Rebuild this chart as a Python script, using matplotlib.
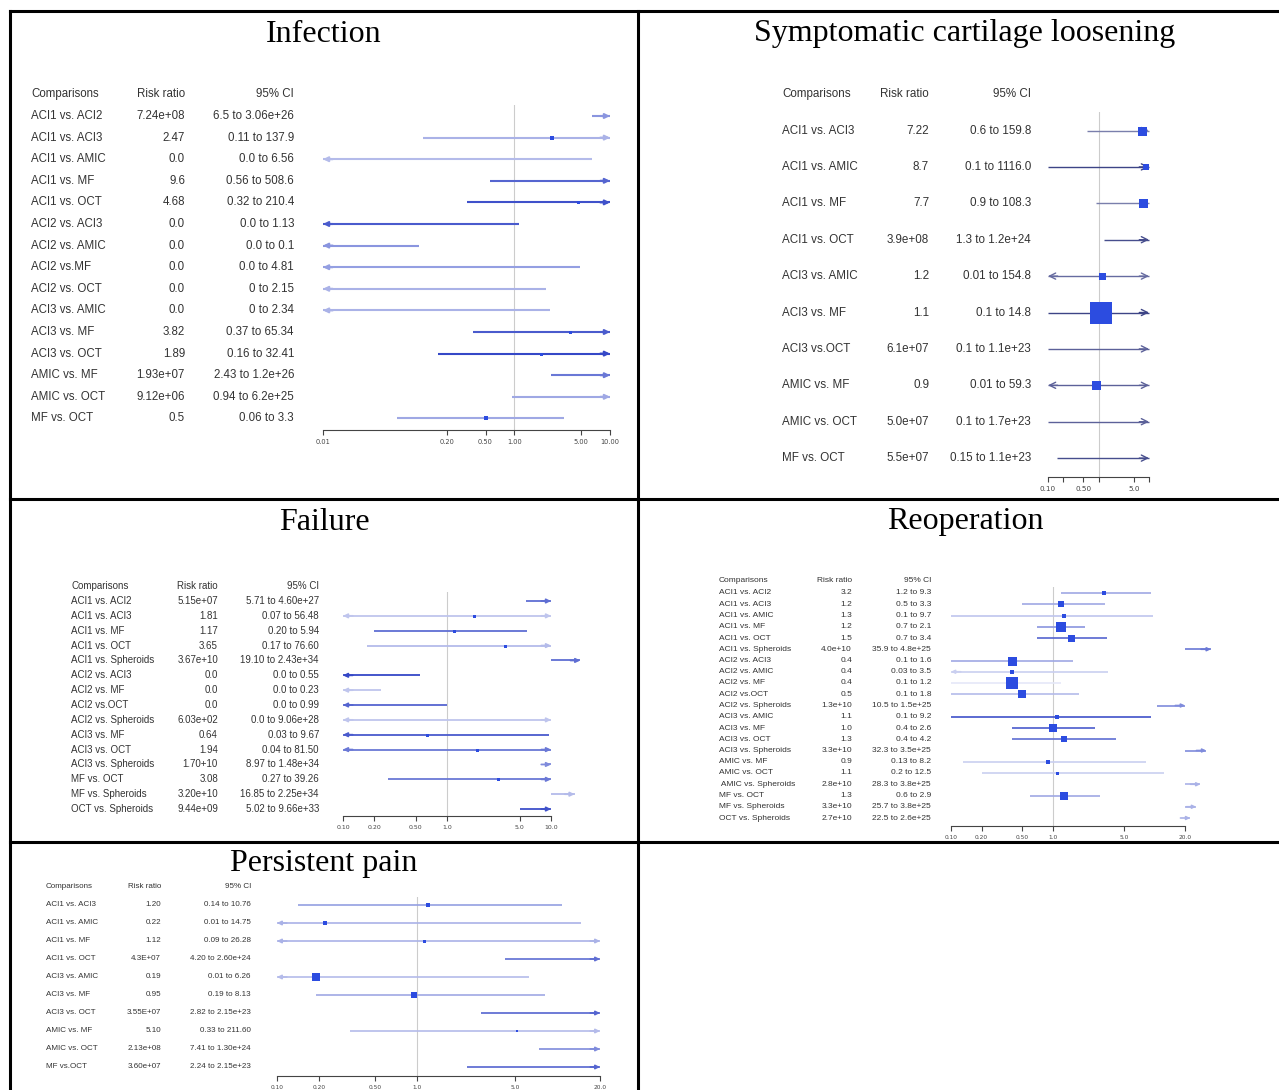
import matplotlib
matplotlib.use("Agg")
import matplotlib.pyplot as plt
from matplotlib.lines import Line2D
from matplotlib.colors import to_rgb
from matplotlib.ticker import NullLocator
from matplotlib.transforms import blended_transform_factory

# ---- data ----
inf_comp = ["ACI1 vs. ACI2", "ACI1 vs. ACI3", "ACI1 vs. AMIC", "ACI1 vs. MF", "ACI1 vs. OCT",
            "ACI2 vs. ACI3", "ACI2 vs. AMIC", "ACI2 vs.MF", "ACI2 vs. OCT", "ACI3 vs. AMIC",
            "ACI3 vs. MF", "ACI3 vs. OCT", "AMIC vs. MF", "AMIC vs. OCT", "MF vs. OCT"]
inf_rr = ["7.24e+08", "2.47", "0.0", "9.6", "4.68", "0.0", "0.0", "0.0", "0.0", "0.0",
          "3.82", "1.89", "1.93e+07", "9.12e+06", "0.5"]
inf_ci = ["6.5 to 3.06e+26", "0.11 to 137.9", "0.0 to 6.56", "0.56 to 508.6", "0.32 to 210.4",
          "0.0 to 1.13", "0.0 to 0.1", "0.0 to 4.81", "0 to 2.15", "0 to 2.34",
          "0.37 to 65.34", "0.16 to 32.41", "2.43 to 1.2e+26", "0.94 to 6.2e+25", "0.06 to 3.3"]
inf_wt = [0.55, 0.4, 0.35, 0.8, 0.9, 0.85, 0.55, 0.5, 0.4, 0.4, 0.85, 0.95, 0.7, 0.45, 0.45]
inf_box = [0, 4, 0, 0, 3, 0, 0, 0, 0, 0, 3, 3, 0, 0, 4]

scl_comp = ["ACI1 vs. ACI3", "ACI1 vs. AMIC", "ACI1 vs. MF", "ACI1 vs. OCT", "ACI3 vs. AMIC",
            "ACI3 vs. MF", "ACI3 vs.OCT", "AMIC vs. MF", "AMIC vs. OCT", "MF vs. OCT"]
scl_rr = ["7.22", "8.7", "7.7", "3.9e+08", "1.2", "1.1", "6.1e+07", "0.9", "5.0e+07", "5.5e+07"]
scl_ci = ["0.6 to 159.8", "0.1 to 1116.0", "0.9 to 108.3", "1.3 to 1.2e+24", "0.01 to 154.8",
          "0.1 to 14.8", "0.1 to 1.1e+23", "0.01 to 59.3", "0.1 to 1.7e+23", "0.15 to 1.1e+23"]
scl_wt = [0.65, 0.95, 0.65, 0.9, 0.75, 0.95, 0.8, 0.8, 0.8, 0.9]
scl_box = [9, 6, 9, 0, 7, 22, 0, 9, 0, 0]

fail_comp = ["ACI1 vs. ACI2", "ACI1 vs. ACI3", "ACI1 vs. MF", "ACI1 vs. OCT", "ACI1 vs. Spheroids",
             "ACI2 vs. ACI3", "ACI2 vs. MF", "ACI2 vs.OCT", "ACI2 vs. Spheroids", "ACI3 vs. MF",
             "ACI3 vs. OCT", "ACI3 vs. Spheroids", "MF vs. OCT", "MF vs. Spheroids", "OCT vs. Spheroids"]
fail_rr = ["5.15e+07", "1.81", "1.17", "3.65", "3.67e+10", "0.0", "0.0", "0.0", "6.03e+02",
           "0.64", "1.94", "1.70+10", "3.08", "3.20e+10", "9.44e+09"]
fail_ci = ["5.71 to 4.60e+27", "0.07 to 56.48", "0.20 to 5.94", "0.17 to 76.60", "19.10 to 2.43e+34",
           "0.0 to 0.55", "0.0 to 0.23", "0.0 to 0.99", "0.0 to 9.06e+28", "0.03 to 9.67",
           "0.04 to 81.50", "8.97 to 1.48e+34", "0.27 to 39.26", "16.85 to 2.25e+34", "5.02 to 9.66e+33"]
fail_wt = [0.75, 0.3, 0.75, 0.35, 0.75, 0.95, 0.3, 0.8, 0.3, 0.85, 0.7, 0.6, 0.7, 0.35, 0.9]
fail_box = [0, 3, 3, 3, 0, 0, 0, 0, 0, 3, 3, 0, 3, 0, 0]

reop_comp = ["ACI1 vs. ACI2", "ACI1 vs. ACI3", "ACI1 vs. AMIC", "ACI1 vs. MF", "ACI1 vs. OCT",
             "ACI1 vs. Spheroids", "ACI2 vs. ACI3", "ACI2 vs. AMIC", "ACI2 vs. MF", "ACI2 vs.OCT",
             "ACI2 vs. Spheroids", "ACI3 vs. AMIC", "ACI3 vs. MF", "ACI3 vs. OCT", "ACI3 vs. Spheroids",
             "AMIC vs. MF", "AMIC vs. OCT", " AMIC vs. Spheroids", "MF vs. OCT", "MF vs. Spheroids",
             "OCT vs. Spheroids"]
reop_rr = ["3.2", "1.2", "1.3", "1.2", "1.5", "4.0e+10", "0.4", "0.4", "0.4", "0.5", "1.3e+10",
           "1.1", "1.0", "1.3", "3.3e+10", "0.9", "1.1", "2.8e+10", "1.3", "3.3e+10", "2.7e+10"]
reop_ci = ["1.2 to 9.3", "0.5 to 3.3", "0.1 to 9.7", "0.7 to 2.1", "0.7 to 3.4", "35.9 to 4.8e+25",
           "0.1 to 1.6", "0.03 to 3.5", "0.1 to 1.2", "0.1 to 1.8", "10.5 to 1.5e+25", "0.1 to 9.2",
           "0.4 to 2.6", "0.4 to 4.2", "32.3 to 3.5e+25", "0.13 to 8.2", "0.2 to 12.5",
           "28.3 to 3.8e+25", "0.6 to 2.9", "25.7 to 3.8e+25", "22.5 to 2.6e+25"]
reop_wt = [0.45, 0.45, 0.3, 0.55, 0.8, 0.7, 0.45, 0.25, 0.12, 0.35, 0.6, 0.9, 0.85, 0.75, 0.6,
           0.25, 0.25, 0.4, 0.45, 0.4, 0.4]
reop_box = [5, 6, 4, 10, 7, 0, 9, 5, 12, 8, 0, 4, 8, 6, 0, 4, 3, 0, 8, 0, 0]

pain_comp = ["ACI1 vs. ACI3", "ACI1 vs. AMIC", "ACI1 vs. MF", "ACI1 vs. OCT", "ACI3 vs. AMIC",
             "ACI3 vs. MF", "ACI3 vs. OCT", "AMIC vs. MF", "AMIC vs. OCT", "MF vs.OCT"]
pain_rr = ["1.20", "0.22", "1.12", "4.3E+07", "0.19", "0.95", "3.55E+07", "5.10", "2.13e+08", "3.60e+07"]
pain_ci = ["0.14 to 10.76", "0.01 to 14.75", "0.09 to 26.28", "4.20 to 2.60e+24", "0.01 to 6.26",
           "0.19 to 8.13", "2.82 to 2.15e+23", "0.33 to 211.60", "7.41 to 1.30e+24", "2.24 to 2.15e+23"]
pain_wt = [0.5, 0.4, 0.4, 0.75, 0.35, 0.45, 0.8, 0.35, 0.6, 0.8]
pain_box = [5, 4, 3, 0, 8, 6, 0, 2, 0, 0]

W, H = 1279, 1090
BLUE = "#2a3ec4"
NAVY = "#333a80"
BOX = "#2c4ce0"

fig = plt.figure(figsize=(W / 100, H / 100), dpi=100)


def fx(x):
    return x / W


def fy(y):
    return 1 - y / H


def num(s):
    s = s.strip().lower()
    if "+" in s and "e" not in s:
        s = s.replace("+", "e+")
    return float(s)


def shade(c, w):
    r, g, b = to_rgb(c)
    return (1 - w * (1 - r), 1 - w * (1 - g), 1 - w * (1 - b))


def head(ax, x, y, sign, col, lw, style, ms):
    ax.annotate("", xy=(x, y), xytext=(-sign * 7, 0), textcoords="offset points",
                arrowprops=dict(arrowstyle=style, color=col, lw=lw, mutation_scale=ms,
                                shrinkA=0, shrinkB=0),
                annotation_clip=False)


def forest(p):
    x0, x1 = p["xpx"]
    xmin, xmax = p["xlim"]
    yt, yb = p["ypx"]
    p0, d = p["rows"]
    ax = fig.add_axes([fx(x0), fy(yb), (x1 - x0) / W, (yb - yt) / H])
    ax.patch.set_alpha(0)
    ax.set_xscale("log")
    ax.set_xlim(xmin, xmax)
    ax.set_ylim((yb - p0) / d, (yt - p0) / d)
    ax.axvline(1, color="#cccccc", lw=0.8, zorder=0)
    for s in ["top", "right", "left"]:
        ax.spines[s].set_visible(False)
    ax.spines["bottom"].set_color("#444444")
    ax.spines["bottom"].set_linewidth(0.8)
    ax.set_yticks([])
    ax.set_xticks(p["ticks"])
    ax.set_xticklabels(p["tlabels"])
    ax.xaxis.set_minor_locator(NullLocator())
    ax.tick_params(axis="x", length=3.5, width=0.8, color="#444444", pad=3,
                   labelsize=p["tsize"], labelcolor="#444444")
    base = p["color"]
    lw = p["lw"]
    for i, (rr_s, ci_s, w, b) in enumerate(zip(p["rr"], p["ci"], p["wt"], p["box"])):
        lo, hi = [num(v) for v in ci_s.split(" to ")]
        rr = num(rr_s)
        col = shade(base, w)
        if lo >= xmax:
            ax.plot([xmax, lo], [i, i], color=col, lw=lw, clip_on=False, solid_capstyle="butt")
            head(ax, lo, i, 1, col, lw, p["arrow"], p["ams"])
            continue
        a, c = max(lo, xmin), min(hi, xmax)
        ax.plot([a, c], [i, i], color=col, lw=lw, clip_on=False, solid_capstyle="butt")
        if hi > xmax:
            head(ax, xmax, i, 1, col, lw, p["arrow"], p["ams"])
        if lo < xmin:
            head(ax, xmin, i, -1, col, lw, p["arrow"], p["ams"])
        if b and xmin <= rr <= xmax:
            ax.plot([rr], [i], marker="s", ms=b * 0.72, color=BOX, mec=BOX, mew=0,
                    clip_on=False, zorder=5)
    tr = blended_transform_factory(fig.transFigure, ax.transData)
    hy = (p["head"] - p0) / d
    cl, rr_x, ci_x = p["cols"]
    kw = dict(transform=tr, fontsize=p["fsize"], color="#333333", va="center",
              family="Liberation Sans")
    ax.text(fx(cl), hy, "Comparisons", ha="left", **kw)
    ax.text(fx(rr_x), hy, "Risk ratio", ha="right", **kw)
    ax.text(fx(ci_x), hy, "95% CI", ha="right", **kw)
    for i, (cmp, rr_s, ci_s) in enumerate(zip(p["comp"], p["rr"], p["ci"])):
        ax.text(fx(cl), i, cmp, ha="left", **kw)
        ax.text(fx(rr_x), i, rr_s, ha="right", **kw)
        ax.text(fx(ci_x), i, ci_s, ha="right", **kw)
    fig.text(fx(p["title_xy"][0]), fy(p["title_xy"][1]), p["title"], ha="center", va="center",
             fontsize=23, family="Liberation Serif", color="black")


panels = [
    dict(title="Infection", title_xy=(324, 34), comp=inf_comp, rr=inf_rr, ci=inf_ci, wt=inf_wt,
         box=inf_box, xpx=(323, 610), xlim=(0.01, 10), ypx=(105, 430), rows=(116, 21.6), head=94,
         cols=(31, 185, 294), fsize=8.3, tsize=4.8, ticks=[0.01, 0.2, 0.5, 1, 5, 10],
         tlabels=["0.01", "0.20", "0.50", "1.00", "5.00", "10.00"], color=BLUE, lw=1.5,
         arrow="-|>", ams=7),
    dict(title="Symptomatic cartilage loosening", title_xy=(965, 34), comp=scl_comp, rr=scl_rr,
         ci=scl_ci, wt=scl_wt, box=scl_box, xpx=(1048, 1149), xlim=(0.1, 10), ypx=(112, 477),
         rows=(130.5, 36.4), head=94, cols=(782, 929, 1031), fsize=8.4, tsize=5.2,
         ticks=[0.1, 0.2, 0.5, 1, 5, 10], tlabels=["0.10", "", "0.50", "", "5.0", ""],
         color=NAVY, lw=1.0, arrow="->", ams=11),
    dict(title="Failure", title_xy=(324, 522), comp=fail_comp, rr=fail_rr, ci=fail_ci, wt=fail_wt,
         box=fail_box, xpx=(343, 551), xlim=(0.1, 10), ypx=(592, 816), rows=(601, 14.86), head=586,
         cols=(71, 218, 319), fsize=7.0, tsize=4.5, ticks=[0.1, 0.2, 0.5, 1, 5, 10],
         tlabels=["0.10", "0.20", "0.50", "1.0", "5.0", "10.0"], color=BLUE, lw=1.3,
         arrow="-|>", ams=6),
    dict(title="Reoperation", title_xy=(965, 522), comp=reop_comp, rr=reop_rr, ci=reop_ci,
         wt=reop_wt, box=reop_box, xpx=(951, 1185), xlim=(0.1, 20), ypx=(587, 826),
         rows=(593, 11.25), head=581, cols=(719, 852, 931), fsize=6.0, tsize=4.2,
         ticks=[0.1, 0.2, 0.5, 1, 5, 20], tlabels=["0.10", "0.20", "0.50", "1.0", "5.0", "20.0"],
         color=BLUE, lw=1.2, arrow="-|>", ams=5),
    dict(title="Persistent pain", title_xy=(324, 864), comp=pain_comp, rr=pain_rr, ci=pain_ci,
         wt=pain_wt, box=pain_box, xpx=(277, 600), xlim=(0.1, 20), ypx=(897, 1076),
         rows=(905, 18), head=887, cols=(46, 161, 251), fsize=5.8, tsize=4.2,
         ticks=[0.1, 0.2, 0.5, 1, 5, 20], tlabels=["0.10", "0.20", "0.50", "1.0", "5.0", "20.0"],
         color=BLUE, lw=1.2, arrow="-|>", ams=6),
]

for p in panels:
    forest(p)

# table grid
grid = [((10, 1279), (11, 11)), ((10, 10), (11, 1090)), ((638, 638), (11, 1090)),
        ((10, 1279), (499, 499)), ((10, 1279), (842, 842))]
for xs, ys in grid:
    fig.add_artist(Line2D([fx(v) for v in xs], [fy(v) for v in ys], transform=fig.transFigure,
                          color="black", lw=2.2))

fig.savefig("out.png", dpi=100)
